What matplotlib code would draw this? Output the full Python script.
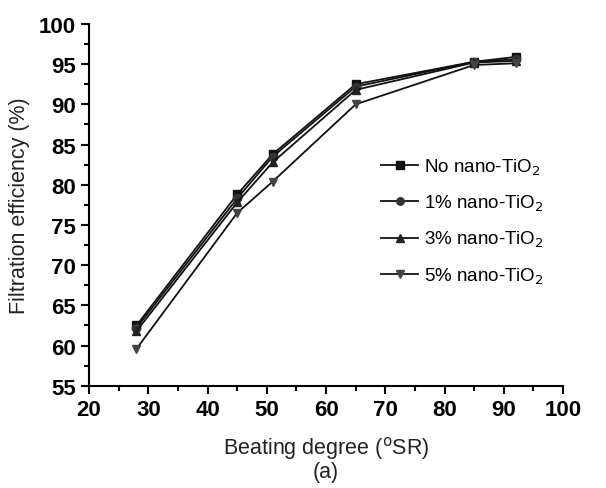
import matplotlib
matplotlib.use('Agg')
from matplotlib import pyplot as plt
from matplotlib.ticker import MultipleLocator

plt.rcParams['font.family'] = ['Liberation Sans', 'DejaVu Sans']

## data
beating = [28, 45, 51, 65, 85, 92]
no_tio2 = [62.5, 78.8, 83.8, 92.5, 95.3, 95.9]
tio2_1 = [62.2, 78.3, 83.5, 92.2, 95.3, 95.6]
tio2_3 = [61.8, 77.8, 82.8, 91.8, 95.2, 95.4]
tio2_5 = [59.6, 76.5, 80.4, 90.0, 94.9, 95.1]
labels = ['No nano-TiO$_2$', '1% nano-TiO$_2$', '3% nano-TiO$_2$', '5% nano-TiO$_2$']

fig = plt.figure(figsize=(6.06, 4.89), dpi=100)
ax = fig.add_axes([0.147, 0.209, 0.782, 0.740])

series = [no_tio2, tio2_1, tio2_3, tio2_5]
markers = ['s', 'o', '^', 'v']
mcolors = ['#111111', '#333333', '#222222', '#444444']
for s, m, c, lab in zip(series, markers, mcolors, labels):
    ax.plot(beating, s, color='#111111', lw=1.3, marker=m, ms=6,
            mfc=c, mec=c, label=lab)

ax.set_xlim(20, 100)
ax.set_ylim(55, 100)
ax.xaxis.set_major_locator(MultipleLocator(10))
ax.xaxis.set_minor_locator(MultipleLocator(5))
ax.yaxis.set_major_locator(MultipleLocator(5))
ax.yaxis.set_minor_locator(MultipleLocator(2.5))
ax.spines['top'].set_visible(False)
ax.spines['right'].set_visible(False)
for sp in ['left', 'bottom']:
    ax.spines[sp].set_linewidth(1.5)
ax.tick_params(which='major', direction='out', length=6, width=1.5, labelsize=16)
ax.tick_params(which='minor', direction='out', length=3.5, width=1.5)
for t in ax.get_xticklabels() + ax.get_yticklabels():
    t.set_fontweight('bold')

ax.set_xlabel('Beating degree ($^{\\mathrm{o}}$SR)\n(a)', fontsize=15.5, color='#222222',
              labelpad=10, linespacing=1.0)
ax.set_ylabel('Filtration efficiency (%)', fontsize=15.5, color='#222222', labelpad=6)

ax.legend(loc='upper left', bbox_to_anchor=(0.58, 0.68), frameon=False, fontsize=13.5,
          handlelength=2.0, labelspacing=0.85, handletextpad=0.3, markerscale=0.9)

plt.savefig('out.png', dpi=100)
